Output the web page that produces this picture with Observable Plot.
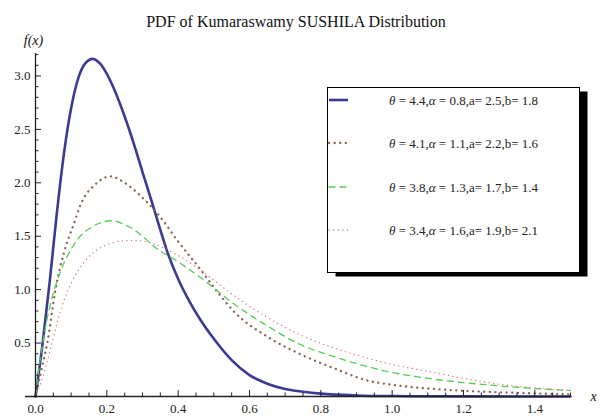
<!DOCTYPE html>
<html><head><meta charset="utf-8">
<script src="https://cdn.jsdelivr.net/npm/d3@7"></script>
<script src="https://cdn.jsdelivr.net/npm/@observablehq/plot@0.6"></script>
<style>
body{margin:0;background:#fff;}
#wrap{position:relative;width:602px;height:416px;font-family:"Liberation Serif","Times New Roman",serif;}
#wrap svg text{font-family:"Liberation Serif","DejaVu Serif","Times New Roman",serif;}
#legend{position:absolute;left:327px;top:87px;overflow:visible;}
</style></head><body><div id="wrap"></div>
<script>
const titleText = "PDF of Kumaraswamy SUSHILA Distribution";
const yLabel = "f(x)";
const xLabel = "x";
const theta = [4.4, 4.1, 3.8, 3.4];
const alpha = [0.8, 1.1, 1.3, 1.6];
const aPar = [2.5, 2.2, 1.7, 1.9];
const bPar = [1.8, 1.6, 1.4, 2.1];

const x1 = [0,0.02,0.04,0.06,0.08,0.10,0.12,0.14,0.16,0.18,0.20,0.22,0.25,0.28,0.30,0.33,0.35,0.37,0.40,0.43,0.46,0.50,0.55,0.60,0.65,0.70,0.75,0.80,0.90,1.0,1.2,1.5];
const y1 = [0,0.50,1.08,1.72,2.28,2.70,2.98,3.12,3.16,3.12,3.02,2.88,2.62,2.32,2.10,1.78,1.56,1.35,1.10,0.90,0.73,0.54,0.34,0.20,0.12,0.07,0.045,0.027,0.01,0.004,0.001,0];

const x2 = [0,0.02,0.033,0.056,0.08,0.107,0.131,0.163,0.21,0.25,0.30,0.35,0.40,0.46,0.51,0.555,0.65,0.74,0.84,0.93,1.0,1.15,1.34,1.5];
const y2 = [0,0.30,0.50,1.00,1.35,1.61,1.83,1.97,2.06,2.00,1.86,1.68,1.45,1.20,0.98,0.80,0.56,0.40,0.26,0.15,0.11,0.063,0.035,0.02];

const x3 = [0,0.01,0.028,0.047,0.075,0.10,0.12,0.16,0.21,0.25,0.30,0.33,0.40,0.46,0.555,0.65,0.74,0.84,0.93,1.0,1.1,1.2,1.3,1.4,1.5];
const y3 = [0,0.27,0.65,0.93,1.21,1.38,1.48,1.59,1.645,1.61,1.50,1.41,1.26,1.12,0.87,0.66,0.49,0.37,0.28,0.225,0.17,0.13,0.10,0.075,0.056];

const x4 = [0,0.02,0.04,0.06,0.08,0.10,0.13,0.16,0.20,0.24,0.28,0.32,0.36,0.40,0.46,0.55,0.65,0.74,0.84,0.93,1.0,1.1,1.2,1.3,1.4,1.5];
const y4 = [0,0.18,0.42,0.68,0.90,1.06,1.23,1.34,1.42,1.455,1.46,1.44,1.39,1.32,1.19,0.96,0.74,0.58,0.45,0.36,0.30,0.235,0.17,0.115,0.08,0.058];

const xMajor = [0,0.2,0.4,0.6,0.8,1.0,1.2,1.4];
const xMinor = d3.range(0,1.501,0.05).filter(v => Math.abs(v/0.2 - Math.round(v/0.2)) > 1e-6);
const yMajor = [0.5,1.0,1.5,2.0,2.5,3.0];
const yMinor = d3.range(0.1,3.21,0.1).filter(v => Math.abs(v/0.5 - Math.round(v/0.5)) > 1e-6);

const colors = ["#3b3b96", "#8a6250", "#55cc55", "#e06b6b"];
const widths = [2.6, 2.3, 1.3, 1.3];
const dashes = [null, "0.1,5.5", "6,5", "0.1,4.5"];
const xs = [x1, x2, x3, x4], ys = [y1, y2, y3, y4];

const W0 = 602, H0 = 416, mL = 35, mR = 32, mT = 53, mB = 20;
const xMax = 1.5, yMax = 3.21;
const pxPerX = (W0 - mL - mR) / xMax, pxPerY = (H0 - mT - mB) / yMax;
const majLen = 6, minLen = 3.5;

const lineMarks = xs.map((xa, i) => Plot.line(xa.map((x, j) => ({x, y: ys[i][j]})), {
  x: "x", y: "y", stroke: colors[i], strokeWidth: widths[i],
  strokeDasharray: dashes[i], strokeLinecap: "round", curve: "monotone-x"
}));

const axisColor = "#222";
const serif = "Liberation Serif";
const chart = Plot.plot({
  width: W0, height: H0,
  marginLeft: mL, marginRight: mR, marginTop: mT, marginBottom: mB,
  x: {domain: [0, xMax], axis: null},
  y: {domain: [0, yMax], axis: null},
  style: {fontFamily: serif, fontSize: "13px", background: "white", overflow: "visible"},
  marks: [
    ...lineMarks,
    Plot.ruleY([0], {x1: -0.028, x2: xMax, stroke: axisColor, strokeWidth: 1.3}),
    Plot.ruleX([0], {y1: 0, y2: yMax, stroke: axisColor, strokeWidth: 1.3}),
    Plot.ruleX(xMajor, {x: d => d, y1: 0, y2: majLen / pxPerY, stroke: axisColor}),
    Plot.ruleX(xMinor, {x: d => d, y1: 0, y2: minLen / pxPerY, stroke: axisColor}),
    Plot.ruleY(yMajor, {y: d => d, x1: 0, x2: majLen / pxPerX, stroke: axisColor}),
    Plot.ruleY(yMinor, {y: d => d, x1: 0, x2: minLen / pxPerX, stroke: axisColor}),
    Plot.text(xMajor, {x: d => d, y: 0, text: d => d.toFixed(1), dy: 12, fill: "#222", fontFamily: serif, fontSize: 13}),
    Plot.text(yMajor, {x: 0, y: d => d, text: d => d.toFixed(1), dx: -5, textAnchor: "end", fill: "#222", fontFamily: serif, fontSize: 13}),
    Plot.text([titleText], {frameAnchor: "top", lineAnchor: "middle", text: d => d, dy: -32, dx: -7, fontSize: 16, fill: "#111", fontFamily: serif}),
    Plot.text([yLabel], {x: 0, y: yMax, text: d => d, dy: -13, dx: -2, fontSize: 14, fontStyle: "italic", fill: "#111", fontFamily: serif}),
    Plot.text([xLabel], {x: xMax, y: 0, text: d => d, dx: 23, fontSize: 14, fontStyle: "italic", fill: "#111", fontFamily: serif})
  ]
});
const wrap = document.getElementById("wrap");
wrap.appendChild(chart);

// legend
const W = 252, H = 185;
const leg = d3.select(wrap).append("svg").attr("id", "legend").attr("width", W + 10).attr("height", H + 6);
leg.append("rect").attr("x", 8.5).attr("y", 4.5).attr("width", W).attr("height", H).attr("fill", "#000");
leg.append("rect").attr("x", 0.5).attr("y", 0.5).attr("width", W).attr("height", H).attr("fill", "#fff").attr("stroke", "#000");
const rowY = [13, 56, 100, 143];
theta.forEach((t, i) => {
  leg.append("line").attr("x1", 2).attr("x2", 21).attr("y1", rowY[i]).attr("y2", rowY[i])
    .attr("stroke", colors[i]).attr("stroke-width", widths[i])
    .attr("stroke-dasharray", dashes[i]).attr("stroke-linecap", dashes[i] ? "round" : "butt");
  const tx = leg.append("text").attr("x", 62).attr("y", rowY[i]).attr("dy", "0.35em")
    .attr("font-size", 13).attr("font-family", serif).attr("fill", "#222");
  tx.append("tspan").attr("font-style", "italic").text("θ");
  tx.append("tspan").text(` = ${t},`);
  tx.append("tspan").attr("font-style", "italic").text("α");
  tx.append("tspan").text(` = ${alpha[i]},a= ${aPar[i]},b= ${bPar[i]}`);
});
</script></body></html>
